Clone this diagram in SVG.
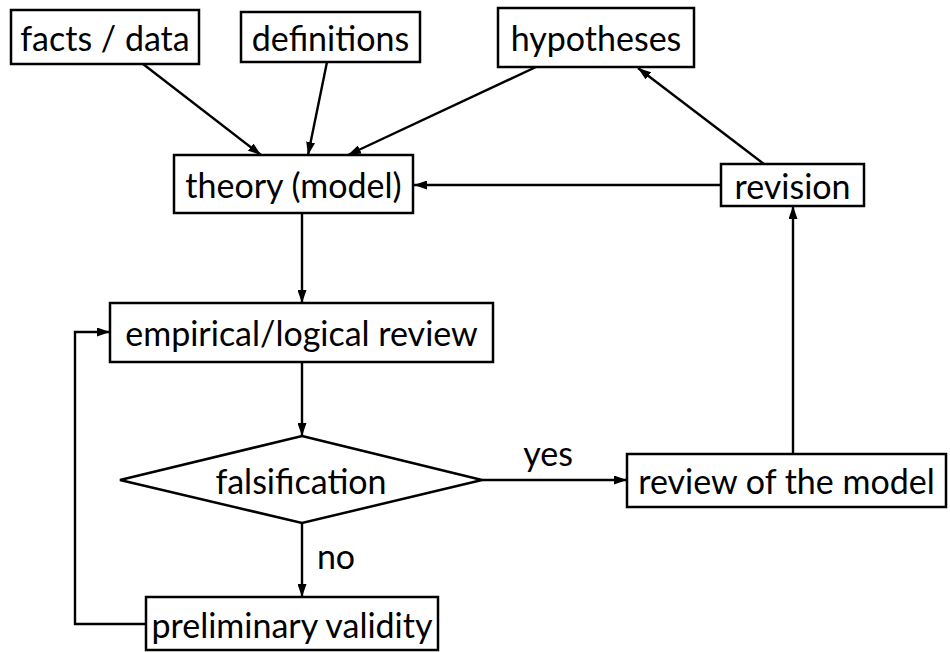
<svg xmlns="http://www.w3.org/2000/svg" width="950" height="653" viewBox="0 0 950 653">
<style>
.box{fill:#fff;stroke:#000;stroke-width:2.5}
.t{font-family:Lato,"Open Sans",sans-serif;font-size:34px;fill:#000;text-anchor:middle;dominant-baseline:central}
.c{fill:none;stroke:#000;stroke-width:2.4}
</style>
<defs>
<marker id="ah" viewBox="0 0 13 9" refX="13" refY="4.5" markerWidth="13" markerHeight="9" markerUnits="userSpaceOnUse" orient="auto">
<path d="M0,0 L13,4.5 L0,9 Z" fill="#000"/>
</marker>
</defs>
<g id="connectors">
<line class="c" x1="143" y1="64" x2="261" y2="155" marker-end="url(#ah)"/>
<line class="c" x1="327" y1="62" x2="308" y2="155" marker-end="url(#ah)"/>
<line class="c" x1="536" y1="67" x2="348" y2="155" marker-end="url(#ah)"/>
<line class="c" x1="764" y1="164" x2="638" y2="68" marker-end="url(#ah)"/>
<line class="c" x1="721" y1="185" x2="414" y2="185" marker-end="url(#ah)"/>
<line class="c" x1="302" y1="213" x2="302" y2="303" marker-end="url(#ah)"/>
<line class="c" x1="302" y1="362" x2="302" y2="436" marker-end="url(#ah)"/>
<line class="c" x1="482" y1="480" x2="627" y2="480" marker-end="url(#ah)"/>
<line class="c" x1="302" y1="523" x2="302" y2="597" marker-end="url(#ah)"/>
<polyline class="c" points="146,624 75,624 75,332 110,332" marker-end="url(#ah)"/>
<line class="c" x1="793" y1="454" x2="793" y2="206" marker-end="url(#ah)"/>
<text class="t" x="548" y="452">yes</text>
<text class="t" x="336" y="555">no</text>
</g>
<g id="facts">
<rect class="box" x="11" y="10" width="188" height="54"/>
<text class="t" x="105" y="37">facts / data</text>
</g>
<g id="definitions">
<rect class="box" x="241" y="12" width="179" height="50"/>
<text class="t" x="330.5" y="37">definitions</text>
</g>
<g id="hypotheses">
<rect class="box" x="498" y="8" width="196" height="59"/>
<text class="t" x="596" y="37">hypotheses</text>
</g>
<g id="theory">
<rect class="box" x="174" y="155" width="239" height="58"/>
<text class="t" x="293.5" y="184">theory (model)</text>
</g>
<g id="revision">
<rect class="box" x="721" y="164" width="143" height="42"/>
<text class="t" x="792.5" y="185">revision</text>
</g>
<g id="review">
<rect class="box" x="110" y="303" width="383" height="59"/>
<text class="t" x="301.5" y="332">empirical/logical review</text>
</g>
<g id="falsification">
<polygon class="box" points="302,436 482,480 302,523 120,480"/>
<text class="t" x="301" y="480">falsification</text>
</g>
<g id="reviewmodel">
<rect class="box" x="627" y="454" width="319" height="53"/>
<text class="t" x="786.5" y="480">review of the model</text>
</g>
<g id="preliminary">
<rect class="box" x="146" y="597" width="292" height="53"/>
<text class="t" x="292" y="624">preliminary validity</text>
</g>
</svg>
